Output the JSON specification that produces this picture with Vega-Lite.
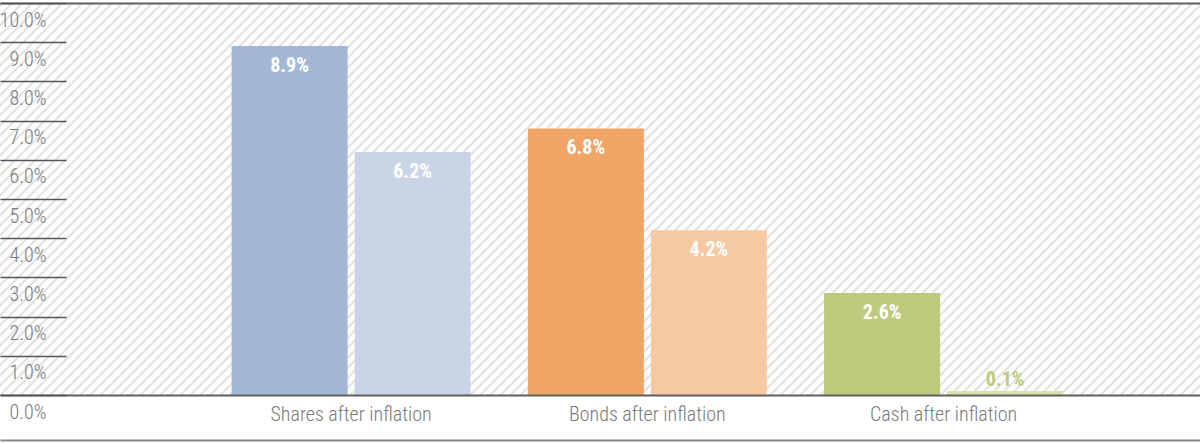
{
  "$schema": "https://vega.github.io/schema/vega-lite/v6.json",
  "width": 1200,
  "height": 392,
  "autosize": {"type": "none"},
  "padding": {"top": 3, "left": 0, "right": 0, "bottom": 49},
  "background": "white",
  "view": {
    "stroke": null,
    "fill": {
      "gradient": "linear", "x1": 0, "y1": 0, "x2": 1.2048, "y2": 0.3936,
      "stops": [
{"offset":0,"color":"#fff"},{"offset":0.0015,"color":"#d9d9d9"},{"offset":0.003,"color":"#fff"},{"offset":0.00625,"color":"#fff"},{"offset":0.00775,"color":"#d9d9d9"},{"offset":0.00925,"color":"#fff"},{"offset":0.0125,"color":"#fff"},{"offset":0.014,"color":"#d9d9d9"},{"offset":0.0155,"color":"#fff"},{"offset":0.01875,"color":"#fff"},{"offset":0.02025,"color":"#d9d9d9"},{"offset":0.02175,"color":"#fff"},{"offset":0.025,"color":"#fff"},{"offset":0.0265,"color":"#d9d9d9"},{"offset":0.028,"color":"#fff"},{"offset":0.03125,"color":"#fff"},{"offset":0.03275,"color":"#d9d9d9"},{"offset":0.03425,"color":"#fff"},{"offset":0.0375,"color":"#fff"},{"offset":0.039,"color":"#d9d9d9"},{"offset":0.0405,"color":"#fff"},{"offset":0.04375,"color":"#fff"},{"offset":0.04525,"color":"#d9d9d9"},{"offset":0.04675,"color":"#fff"},
{"offset":0.05,"color":"#fff"},{"offset":0.0515,"color":"#d9d9d9"},{"offset":0.053,"color":"#fff"},{"offset":0.05625,"color":"#fff"},{"offset":0.05775,"color":"#d9d9d9"},{"offset":0.05925,"color":"#fff"},{"offset":0.0625,"color":"#fff"},{"offset":0.064,"color":"#d9d9d9"},{"offset":0.0655,"color":"#fff"},{"offset":0.06875,"color":"#fff"},{"offset":0.07025,"color":"#d9d9d9"},{"offset":0.07175,"color":"#fff"},{"offset":0.075,"color":"#fff"},{"offset":0.0765,"color":"#d9d9d9"},{"offset":0.078,"color":"#fff"},{"offset":0.08125,"color":"#fff"},{"offset":0.08275,"color":"#d9d9d9"},{"offset":0.08425,"color":"#fff"},{"offset":0.0875,"color":"#fff"},{"offset":0.089,"color":"#d9d9d9"},{"offset":0.0905,"color":"#fff"},{"offset":0.09375,"color":"#fff"},{"offset":0.09525,"color":"#d9d9d9"},{"offset":0.09675,"color":"#fff"},
{"offset":0.1,"color":"#fff"},{"offset":0.1015,"color":"#d9d9d9"},{"offset":0.103,"color":"#fff"},{"offset":0.10625,"color":"#fff"},{"offset":0.10775,"color":"#d9d9d9"},{"offset":0.10925,"color":"#fff"},{"offset":0.1125,"color":"#fff"},{"offset":0.114,"color":"#d9d9d9"},{"offset":0.1155,"color":"#fff"},{"offset":0.11875,"color":"#fff"},{"offset":0.12025,"color":"#d9d9d9"},{"offset":0.12175,"color":"#fff"},{"offset":0.125,"color":"#fff"},{"offset":0.1265,"color":"#d9d9d9"},{"offset":0.128,"color":"#fff"},{"offset":0.13125,"color":"#fff"},{"offset":0.13275,"color":"#d9d9d9"},{"offset":0.13425,"color":"#fff"},{"offset":0.1375,"color":"#fff"},{"offset":0.139,"color":"#d9d9d9"},{"offset":0.1405,"color":"#fff"},{"offset":0.14375,"color":"#fff"},{"offset":0.14525,"color":"#d9d9d9"},{"offset":0.14675,"color":"#fff"},
{"offset":0.15,"color":"#fff"},{"offset":0.1515,"color":"#d9d9d9"},{"offset":0.153,"color":"#fff"},{"offset":0.15625,"color":"#fff"},{"offset":0.15775,"color":"#d9d9d9"},{"offset":0.15925,"color":"#fff"},{"offset":0.1625,"color":"#fff"},{"offset":0.164,"color":"#d9d9d9"},{"offset":0.1655,"color":"#fff"},{"offset":0.16875,"color":"#fff"},{"offset":0.17025,"color":"#d9d9d9"},{"offset":0.17175,"color":"#fff"},{"offset":0.175,"color":"#fff"},{"offset":0.1765,"color":"#d9d9d9"},{"offset":0.178,"color":"#fff"},{"offset":0.18125,"color":"#fff"},{"offset":0.18275,"color":"#d9d9d9"},{"offset":0.18425,"color":"#fff"},{"offset":0.1875,"color":"#fff"},{"offset":0.189,"color":"#d9d9d9"},{"offset":0.1905,"color":"#fff"},{"offset":0.19375,"color":"#fff"},{"offset":0.19525,"color":"#d9d9d9"},{"offset":0.19675,"color":"#fff"},
{"offset":0.2,"color":"#fff"},{"offset":0.2015,"color":"#d9d9d9"},{"offset":0.203,"color":"#fff"},{"offset":0.20625,"color":"#fff"},{"offset":0.20775,"color":"#d9d9d9"},{"offset":0.20925,"color":"#fff"},{"offset":0.2125,"color":"#fff"},{"offset":0.214,"color":"#d9d9d9"},{"offset":0.2155,"color":"#fff"},{"offset":0.21875,"color":"#fff"},{"offset":0.22025,"color":"#d9d9d9"},{"offset":0.22175,"color":"#fff"},{"offset":0.225,"color":"#fff"},{"offset":0.2265,"color":"#d9d9d9"},{"offset":0.228,"color":"#fff"},{"offset":0.23125,"color":"#fff"},{"offset":0.23275,"color":"#d9d9d9"},{"offset":0.23425,"color":"#fff"},{"offset":0.2375,"color":"#fff"},{"offset":0.239,"color":"#d9d9d9"},{"offset":0.2405,"color":"#fff"},{"offset":0.24375,"color":"#fff"},{"offset":0.24525,"color":"#d9d9d9"},{"offset":0.24675,"color":"#fff"},
{"offset":0.25,"color":"#fff"},{"offset":0.2515,"color":"#d9d9d9"},{"offset":0.253,"color":"#fff"},{"offset":0.25625,"color":"#fff"},{"offset":0.25775,"color":"#d9d9d9"},{"offset":0.25925,"color":"#fff"},{"offset":0.2625,"color":"#fff"},{"offset":0.264,"color":"#d9d9d9"},{"offset":0.2655,"color":"#fff"},{"offset":0.26875,"color":"#fff"},{"offset":0.27025,"color":"#d9d9d9"},{"offset":0.27175,"color":"#fff"},{"offset":0.275,"color":"#fff"},{"offset":0.2765,"color":"#d9d9d9"},{"offset":0.278,"color":"#fff"},{"offset":0.28125,"color":"#fff"},{"offset":0.28275,"color":"#d9d9d9"},{"offset":0.28425,"color":"#fff"},{"offset":0.2875,"color":"#fff"},{"offset":0.289,"color":"#d9d9d9"},{"offset":0.2905,"color":"#fff"},{"offset":0.29375,"color":"#fff"},{"offset":0.29525,"color":"#d9d9d9"},{"offset":0.29675,"color":"#fff"},
{"offset":0.3,"color":"#fff"},{"offset":0.3015,"color":"#d9d9d9"},{"offset":0.303,"color":"#fff"},{"offset":0.30625,"color":"#fff"},{"offset":0.30775,"color":"#d9d9d9"},{"offset":0.30925,"color":"#fff"},{"offset":0.3125,"color":"#fff"},{"offset":0.314,"color":"#d9d9d9"},{"offset":0.3155,"color":"#fff"},{"offset":0.31875,"color":"#fff"},{"offset":0.32025,"color":"#d9d9d9"},{"offset":0.32175,"color":"#fff"},{"offset":0.325,"color":"#fff"},{"offset":0.3265,"color":"#d9d9d9"},{"offset":0.328,"color":"#fff"},{"offset":0.33125,"color":"#fff"},{"offset":0.33275,"color":"#d9d9d9"},{"offset":0.33425,"color":"#fff"},{"offset":0.3375,"color":"#fff"},{"offset":0.339,"color":"#d9d9d9"},{"offset":0.3405,"color":"#fff"},{"offset":0.34375,"color":"#fff"},{"offset":0.34525,"color":"#d9d9d9"},{"offset":0.34675,"color":"#fff"},
{"offset":0.35,"color":"#fff"},{"offset":0.3515,"color":"#d9d9d9"},{"offset":0.353,"color":"#fff"},{"offset":0.35625,"color":"#fff"},{"offset":0.35775,"color":"#d9d9d9"},{"offset":0.35925,"color":"#fff"},{"offset":0.3625,"color":"#fff"},{"offset":0.364,"color":"#d9d9d9"},{"offset":0.3655,"color":"#fff"},{"offset":0.36875,"color":"#fff"},{"offset":0.37025,"color":"#d9d9d9"},{"offset":0.37175,"color":"#fff"},{"offset":0.375,"color":"#fff"},{"offset":0.3765,"color":"#d9d9d9"},{"offset":0.378,"color":"#fff"},{"offset":0.38125,"color":"#fff"},{"offset":0.38275,"color":"#d9d9d9"},{"offset":0.38425,"color":"#fff"},{"offset":0.3875,"color":"#fff"},{"offset":0.389,"color":"#d9d9d9"},{"offset":0.3905,"color":"#fff"},{"offset":0.39375,"color":"#fff"},{"offset":0.39525,"color":"#d9d9d9"},{"offset":0.39675,"color":"#fff"},
{"offset":0.4,"color":"#fff"},{"offset":0.4015,"color":"#d9d9d9"},{"offset":0.403,"color":"#fff"},{"offset":0.40625,"color":"#fff"},{"offset":0.40775,"color":"#d9d9d9"},{"offset":0.40925,"color":"#fff"},{"offset":0.4125,"color":"#fff"},{"offset":0.414,"color":"#d9d9d9"},{"offset":0.4155,"color":"#fff"},{"offset":0.41875,"color":"#fff"},{"offset":0.42025,"color":"#d9d9d9"},{"offset":0.42175,"color":"#fff"},{"offset":0.425,"color":"#fff"},{"offset":0.4265,"color":"#d9d9d9"},{"offset":0.428,"color":"#fff"},{"offset":0.43125,"color":"#fff"},{"offset":0.43275,"color":"#d9d9d9"},{"offset":0.43425,"color":"#fff"},{"offset":0.4375,"color":"#fff"},{"offset":0.439,"color":"#d9d9d9"},{"offset":0.4405,"color":"#fff"},{"offset":0.44375,"color":"#fff"},{"offset":0.44525,"color":"#d9d9d9"},{"offset":0.44675,"color":"#fff"},
{"offset":0.45,"color":"#fff"},{"offset":0.4515,"color":"#d9d9d9"},{"offset":0.453,"color":"#fff"},{"offset":0.45625,"color":"#fff"},{"offset":0.45775,"color":"#d9d9d9"},{"offset":0.45925,"color":"#fff"},{"offset":0.4625,"color":"#fff"},{"offset":0.464,"color":"#d9d9d9"},{"offset":0.4655,"color":"#fff"},{"offset":0.46875,"color":"#fff"},{"offset":0.47025,"color":"#d9d9d9"},{"offset":0.47175,"color":"#fff"},{"offset":0.475,"color":"#fff"},{"offset":0.4765,"color":"#d9d9d9"},{"offset":0.478,"color":"#fff"},{"offset":0.48125,"color":"#fff"},{"offset":0.48275,"color":"#d9d9d9"},{"offset":0.48425,"color":"#fff"},{"offset":0.4875,"color":"#fff"},{"offset":0.489,"color":"#d9d9d9"},{"offset":0.4905,"color":"#fff"},{"offset":0.49375,"color":"#fff"},{"offset":0.49525,"color":"#d9d9d9"},{"offset":0.49675,"color":"#fff"},
{"offset":0.5,"color":"#fff"},{"offset":0.5015,"color":"#d9d9d9"},{"offset":0.503,"color":"#fff"},{"offset":0.50625,"color":"#fff"},{"offset":0.50775,"color":"#d9d9d9"},{"offset":0.50925,"color":"#fff"},{"offset":0.5125,"color":"#fff"},{"offset":0.514,"color":"#d9d9d9"},{"offset":0.5155,"color":"#fff"},{"offset":0.51875,"color":"#fff"},{"offset":0.52025,"color":"#d9d9d9"},{"offset":0.52175,"color":"#fff"},{"offset":0.525,"color":"#fff"},{"offset":0.5265,"color":"#d9d9d9"},{"offset":0.528,"color":"#fff"},{"offset":0.53125,"color":"#fff"},{"offset":0.53275,"color":"#d9d9d9"},{"offset":0.53425,"color":"#fff"},{"offset":0.5375,"color":"#fff"},{"offset":0.539,"color":"#d9d9d9"},{"offset":0.5405,"color":"#fff"},{"offset":0.54375,"color":"#fff"},{"offset":0.54525,"color":"#d9d9d9"},{"offset":0.54675,"color":"#fff"},
{"offset":0.55,"color":"#fff"},{"offset":0.5515,"color":"#d9d9d9"},{"offset":0.553,"color":"#fff"},{"offset":0.55625,"color":"#fff"},{"offset":0.55775,"color":"#d9d9d9"},{"offset":0.55925,"color":"#fff"},{"offset":0.5625,"color":"#fff"},{"offset":0.564,"color":"#d9d9d9"},{"offset":0.5655,"color":"#fff"},{"offset":0.56875,"color":"#fff"},{"offset":0.57025,"color":"#d9d9d9"},{"offset":0.57175,"color":"#fff"},{"offset":0.575,"color":"#fff"},{"offset":0.5765,"color":"#d9d9d9"},{"offset":0.578,"color":"#fff"},{"offset":0.58125,"color":"#fff"},{"offset":0.58275,"color":"#d9d9d9"},{"offset":0.58425,"color":"#fff"},{"offset":0.5875,"color":"#fff"},{"offset":0.589,"color":"#d9d9d9"},{"offset":0.5905,"color":"#fff"},{"offset":0.59375,"color":"#fff"},{"offset":0.59525,"color":"#d9d9d9"},{"offset":0.59675,"color":"#fff"},
{"offset":0.6,"color":"#fff"},{"offset":0.6015,"color":"#d9d9d9"},{"offset":0.603,"color":"#fff"},{"offset":0.60625,"color":"#fff"},{"offset":0.60775,"color":"#d9d9d9"},{"offset":0.60925,"color":"#fff"},{"offset":0.6125,"color":"#fff"},{"offset":0.614,"color":"#d9d9d9"},{"offset":0.6155,"color":"#fff"},{"offset":0.61875,"color":"#fff"},{"offset":0.62025,"color":"#d9d9d9"},{"offset":0.62175,"color":"#fff"},{"offset":0.625,"color":"#fff"},{"offset":0.6265,"color":"#d9d9d9"},{"offset":0.628,"color":"#fff"},{"offset":0.63125,"color":"#fff"},{"offset":0.63275,"color":"#d9d9d9"},{"offset":0.63425,"color":"#fff"},{"offset":0.6375,"color":"#fff"},{"offset":0.639,"color":"#d9d9d9"},{"offset":0.6405,"color":"#fff"},{"offset":0.64375,"color":"#fff"},{"offset":0.64525,"color":"#d9d9d9"},{"offset":0.64675,"color":"#fff"},
{"offset":0.65,"color":"#fff"},{"offset":0.6515,"color":"#d9d9d9"},{"offset":0.653,"color":"#fff"},{"offset":0.65625,"color":"#fff"},{"offset":0.65775,"color":"#d9d9d9"},{"offset":0.65925,"color":"#fff"},{"offset":0.6625,"color":"#fff"},{"offset":0.664,"color":"#d9d9d9"},{"offset":0.6655,"color":"#fff"},{"offset":0.66875,"color":"#fff"},{"offset":0.67025,"color":"#d9d9d9"},{"offset":0.67175,"color":"#fff"},{"offset":0.675,"color":"#fff"},{"offset":0.6765,"color":"#d9d9d9"},{"offset":0.678,"color":"#fff"},{"offset":0.68125,"color":"#fff"},{"offset":0.68275,"color":"#d9d9d9"},{"offset":0.68425,"color":"#fff"},{"offset":0.6875,"color":"#fff"},{"offset":0.689,"color":"#d9d9d9"},{"offset":0.6905,"color":"#fff"},{"offset":0.69375,"color":"#fff"},{"offset":0.69525,"color":"#d9d9d9"},{"offset":0.69675,"color":"#fff"},
{"offset":0.7,"color":"#fff"},{"offset":0.7015,"color":"#d9d9d9"},{"offset":0.703,"color":"#fff"},{"offset":0.70625,"color":"#fff"},{"offset":0.70775,"color":"#d9d9d9"},{"offset":0.70925,"color":"#fff"},{"offset":0.7125,"color":"#fff"},{"offset":0.714,"color":"#d9d9d9"},{"offset":0.7155,"color":"#fff"},{"offset":0.71875,"color":"#fff"},{"offset":0.72025,"color":"#d9d9d9"},{"offset":0.72175,"color":"#fff"},{"offset":0.725,"color":"#fff"},{"offset":0.7265,"color":"#d9d9d9"},{"offset":0.728,"color":"#fff"},{"offset":0.73125,"color":"#fff"},{"offset":0.73275,"color":"#d9d9d9"},{"offset":0.73425,"color":"#fff"},{"offset":0.7375,"color":"#fff"},{"offset":0.739,"color":"#d9d9d9"},{"offset":0.7405,"color":"#fff"},{"offset":0.74375,"color":"#fff"},{"offset":0.74525,"color":"#d9d9d9"},{"offset":0.74675,"color":"#fff"},
{"offset":0.75,"color":"#fff"},{"offset":0.7515,"color":"#d9d9d9"},{"offset":0.753,"color":"#fff"},{"offset":0.75625,"color":"#fff"},{"offset":0.75775,"color":"#d9d9d9"},{"offset":0.75925,"color":"#fff"},{"offset":0.7625,"color":"#fff"},{"offset":0.764,"color":"#d9d9d9"},{"offset":0.7655,"color":"#fff"},{"offset":0.76875,"color":"#fff"},{"offset":0.77025,"color":"#d9d9d9"},{"offset":0.77175,"color":"#fff"},{"offset":0.775,"color":"#fff"},{"offset":0.7765,"color":"#d9d9d9"},{"offset":0.778,"color":"#fff"},{"offset":0.78125,"color":"#fff"},{"offset":0.78275,"color":"#d9d9d9"},{"offset":0.78425,"color":"#fff"},{"offset":0.7875,"color":"#fff"},{"offset":0.789,"color":"#d9d9d9"},{"offset":0.7905,"color":"#fff"},{"offset":0.79375,"color":"#fff"},{"offset":0.79525,"color":"#d9d9d9"},{"offset":0.79675,"color":"#fff"},
{"offset":0.8,"color":"#fff"},{"offset":0.8015,"color":"#d9d9d9"},{"offset":0.803,"color":"#fff"},{"offset":0.80625,"color":"#fff"},{"offset":0.80775,"color":"#d9d9d9"},{"offset":0.80925,"color":"#fff"},{"offset":0.8125,"color":"#fff"},{"offset":0.814,"color":"#d9d9d9"},{"offset":0.8155,"color":"#fff"},{"offset":0.81875,"color":"#fff"},{"offset":0.82025,"color":"#d9d9d9"},{"offset":0.82175,"color":"#fff"},{"offset":0.825,"color":"#fff"},{"offset":0.8265,"color":"#d9d9d9"},{"offset":0.828,"color":"#fff"},{"offset":0.83125,"color":"#fff"},{"offset":0.83275,"color":"#d9d9d9"},{"offset":0.83425,"color":"#fff"},{"offset":0.8375,"color":"#fff"},{"offset":0.839,"color":"#d9d9d9"},{"offset":0.8405,"color":"#fff"},{"offset":0.84375,"color":"#fff"},{"offset":0.84525,"color":"#d9d9d9"},{"offset":0.84675,"color":"#fff"},
{"offset":0.85,"color":"#fff"},{"offset":0.8515,"color":"#d9d9d9"},{"offset":0.853,"color":"#fff"},{"offset":0.85625,"color":"#fff"},{"offset":0.85775,"color":"#d9d9d9"},{"offset":0.85925,"color":"#fff"},{"offset":0.8625,"color":"#fff"},{"offset":0.864,"color":"#d9d9d9"},{"offset":0.8655,"color":"#fff"},{"offset":0.86875,"color":"#fff"},{"offset":0.87025,"color":"#d9d9d9"},{"offset":0.87175,"color":"#fff"},{"offset":0.875,"color":"#fff"},{"offset":0.8765,"color":"#d9d9d9"},{"offset":0.878,"color":"#fff"},{"offset":0.88125,"color":"#fff"},{"offset":0.88275,"color":"#d9d9d9"},{"offset":0.88425,"color":"#fff"},{"offset":0.8875,"color":"#fff"},{"offset":0.889,"color":"#d9d9d9"},{"offset":0.8905,"color":"#fff"},{"offset":0.89375,"color":"#fff"},{"offset":0.89525,"color":"#d9d9d9"},{"offset":0.89675,"color":"#fff"},
{"offset":0.9,"color":"#fff"},{"offset":0.9015,"color":"#d9d9d9"},{"offset":0.903,"color":"#fff"},{"offset":0.90625,"color":"#fff"},{"offset":0.90775,"color":"#d9d9d9"},{"offset":0.90925,"color":"#fff"},{"offset":0.9125,"color":"#fff"},{"offset":0.914,"color":"#d9d9d9"},{"offset":0.9155,"color":"#fff"},{"offset":0.91875,"color":"#fff"},{"offset":0.92025,"color":"#d9d9d9"},{"offset":0.92175,"color":"#fff"},{"offset":0.925,"color":"#fff"},{"offset":0.9265,"color":"#d9d9d9"},{"offset":0.928,"color":"#fff"},{"offset":0.93125,"color":"#fff"},{"offset":0.93275,"color":"#d9d9d9"},{"offset":0.93425,"color":"#fff"},{"offset":0.9375,"color":"#fff"},{"offset":0.939,"color":"#d9d9d9"},{"offset":0.9405,"color":"#fff"},{"offset":0.94375,"color":"#fff"},{"offset":0.94525,"color":"#d9d9d9"},{"offset":0.94675,"color":"#fff"},
{"offset":0.95,"color":"#fff"},{"offset":0.9515,"color":"#d9d9d9"},{"offset":0.953,"color":"#fff"},{"offset":0.95625,"color":"#fff"},{"offset":0.95775,"color":"#d9d9d9"},{"offset":0.95925,"color":"#fff"},{"offset":0.9625,"color":"#fff"},{"offset":0.964,"color":"#d9d9d9"},{"offset":0.9655,"color":"#fff"},{"offset":0.96875,"color":"#fff"},{"offset":0.97025,"color":"#d9d9d9"},{"offset":0.97175,"color":"#fff"},{"offset":0.975,"color":"#fff"},{"offset":0.9765,"color":"#d9d9d9"},{"offset":0.978,"color":"#fff"},{"offset":0.98125,"color":"#fff"},{"offset":0.98275,"color":"#d9d9d9"},{"offset":0.98425,"color":"#fff"},{"offset":0.9875,"color":"#fff"},{"offset":0.989,"color":"#d9d9d9"},{"offset":0.9905,"color":"#fff"},{"offset":0.99375,"color":"#fff"},{"offset":0.99525,"color":"#d9d9d9"},{"offset":0.99675,"color":"#fff"}
      ]
    }
  },
  "data": {
    "values": [
      {"asset": "Shares after inflation", "bar": "A", "key": "Shares A", "value": 8.9},
      {"asset": "Shares after inflation", "bar": "B", "key": "Shares B", "value": 6.2},
      {"asset": "Bonds after inflation", "bar": "A", "key": "Bonds A", "value": 6.8},
      {"asset": "Bonds after inflation", "bar": "B", "key": "Bonds B", "value": 4.2},
      {"asset": "Cash after inflation", "bar": "A", "key": "Cash A", "value": 2.6},
      {"asset": "Cash after inflation", "bar": "B", "key": "Cash B", "value": 0.1}
    ]
  },
  "encoding": {
    "x": {
      "field": "asset", "type": "nominal", "sort": null,
      "scale": {"paddingInner": 0.1932, "paddingOuter": 0.6219, "align": 0.6285},
      "axis": {
        "title": null, "orient": "bottom", "offset": 45, "zindex": 1,
        "domain": true, "domainColor": "#8a8a8a", "domainWidth": 2,
        "ticks": false, "tickSize": 0, "labelPadding": -36, "labelAngle": 0,
        "labelBaseline": "top", "labelFontSize": 20, "labelFontWeight": 300,
        "labelColor": "#7a7a7a",
        "labelFont": "Roboto Condensed, Liberation Sans Narrow, DejaVu Sans Condensed, sans-serif"
      }
    },
    "xOffset": {"field": "bar", "type": "nominal", "scale": {"paddingInner": 0.0569, "paddingOuter": 0}},
    "y": {
      "field": "value", "type": "quantitative",
      "scale": {"domain": [0, 10], "nice": false, "zero": true},
      "axis": {
        "title": null, "orient": "left", "zindex": 1,
        "values": [0, 1, 2, 3, 4, 5, 6, 7, 8, 9, 10],
        "labelExpr": "format(datum.value, '.1f') + '%'",
        "domain": false, "ticks": true, "tickSize": -66, "tickColor": "#555", "tickWidth": 1.4,
        "labelAlign": "right", "labelBaseline": "middle", "labelPadding": 20, "labelOffset": 17,
        "labelFlush": false, "labelOverlap": false, "labelBound": false,
        "labelFontSize": 20, "labelFontWeight": 300, "labelColor": "#7a7a7a",
        "labelFont": "Roboto Condensed, Liberation Sans Narrow, DejaVu Sans Condensed, sans-serif",
        "grid": true, "gridColor": "#5f5f5f", "gridWidth": 2,
        "gridOpacity": {"condition": {"test": "datum.value === 0 || datum.value === 10", "value": 1}, "value": 0}
      }
    }
  },
  "layer": [
    {
      "mark": {"type": "bar"},
      "encoding": {
        "color": {
          "field": "key", "type": "nominal", "legend": null,
          "scale": {
            "domain": ["Shares A", "Shares B", "Bonds A", "Bonds B", "Cash A", "Cash B"],
            "range": ["#a3b8d4", "#c9d5e6", "#f0a466", "#f6c9a3", "#bfca7c", "#d9e1ad"]
          }
        }
      }
    },
    {
      "transform": [
        {"filter": "datum.value >= 1"},
        {"calculate": "format(datum.value, '.1f') + '%'", "as": "label"}
      ],
      "mark": {
        "type": "text", "dy": 20, "baseline": "middle", "align": "center",
        "fontSize": 20, "fontWeight": "bold", "color": "white",
        "font": "Roboto Condensed, Liberation Sans Narrow, DejaVu Sans Condensed, sans-serif"
      },
      "encoding": {"text": {"field": "label", "type": "nominal"}}
    },
    {
      "transform": [
        {"filter": "datum.value < 1"},
        {"calculate": "format(datum.value, '.1f') + '%'", "as": "label"}
      ],
      "mark": {
        "type": "text", "dy": -11, "baseline": "middle", "align": "center",
        "fontSize": 20, "fontWeight": "bold", "color": "#bccb7c",
        "font": "Roboto Condensed, Liberation Sans Narrow, DejaVu Sans Condensed, sans-serif"
      },
      "encoding": {"text": {"field": "label", "type": "nominal"}}
    }
  ]
}
